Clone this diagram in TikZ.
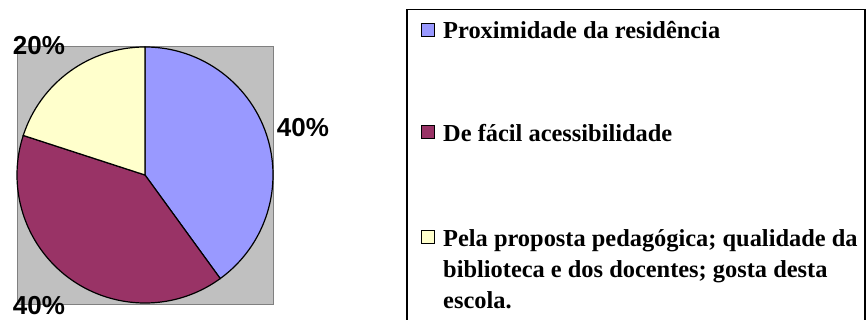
\documentclass[tikz,border=0pt]{standalone}
\usepackage{fontspec}
\setmainfont{Liberation Serif}
\newfontfamily\arialfont{Liberation Sans}
\usetikzlibrary{positioning}
\definecolor{pieblue}{HTML}{9999FF}
\definecolor{piepurple}{HTML}{993366}
\definecolor{pieyellow}{HTML}{FFFFCC}
\definecolor{plotgray}{HTML}{C0C0C0}
\definecolor{plotedge}{HTML}{808080}

\begin{document}
\begin{tikzpicture}[x = 1pt, y = 1pt,
		pct/.style = {font = \arialfont\bfseries\fontsize{26}{26}\selectfont, inner sep = 0pt, anchor = base},
		legsq/.style = {draw = black, line width = 1pt, minimum size = 13pt, inner sep = 0pt},
		legtxt/.style = {font = \bfseries\fontsize{24.4}{31}\selectfont, inner sep = 0pt, align = left, anchor = base west}]
		\useasboundingbox (0,0) rectangle (866,320);
		\node[draw = plotedge, fill = plotgray, line width = 1pt, minimum width = 256pt, minimum height = 258pt, inner sep = 0pt] (plot) at (145,144) {};
		\coordinate (ctr) at (145,145);
		\filldraw[fill = pieblue, line width = 1.2pt] (ctr) -- ++(90:128) arc (90:-54:128) -- cycle;
		\filldraw[fill = piepurple, line width = 1.2pt] (ctr) -- ++(-54:128) arc (-54:-198:128) -- cycle;
		\filldraw[fill = pieyellow, line width = 1.2pt] (ctr) -- ++(162:128) arc (162:90:128) -- cycle;
		\node[pct] (pA) at (303,183) {40\%};
		\node[pct] (pB) at (39,5) {40\%};
		\node[pct] (pC) at (39,265) {20\%};
		% legend
		\draw[line width = 1.2pt] (407,-10) rectangle (865,310.5);
		\node[legsq, fill = pieblue] (sqA) at (427.5,289.5) {};
		\node[legsq, fill = piepurple] (sqB) at (427.5,187.5) {};
		\node[legsq, fill = pieyellow] (sqC) at (427.5,83) {};
		\node[legtxt] (tA) at (443,281) {Proximidade da residência};
		\node[legtxt] (tB) at (443,178) {De fácil acessibilidade};
		\node[legtxt] (tC) at (443,11) {Pela proposta pedagógica; qualidade da\\biblioteca e dos docentes; gosta desta\\escola.};
	\end{tikzpicture}
\end{document}
